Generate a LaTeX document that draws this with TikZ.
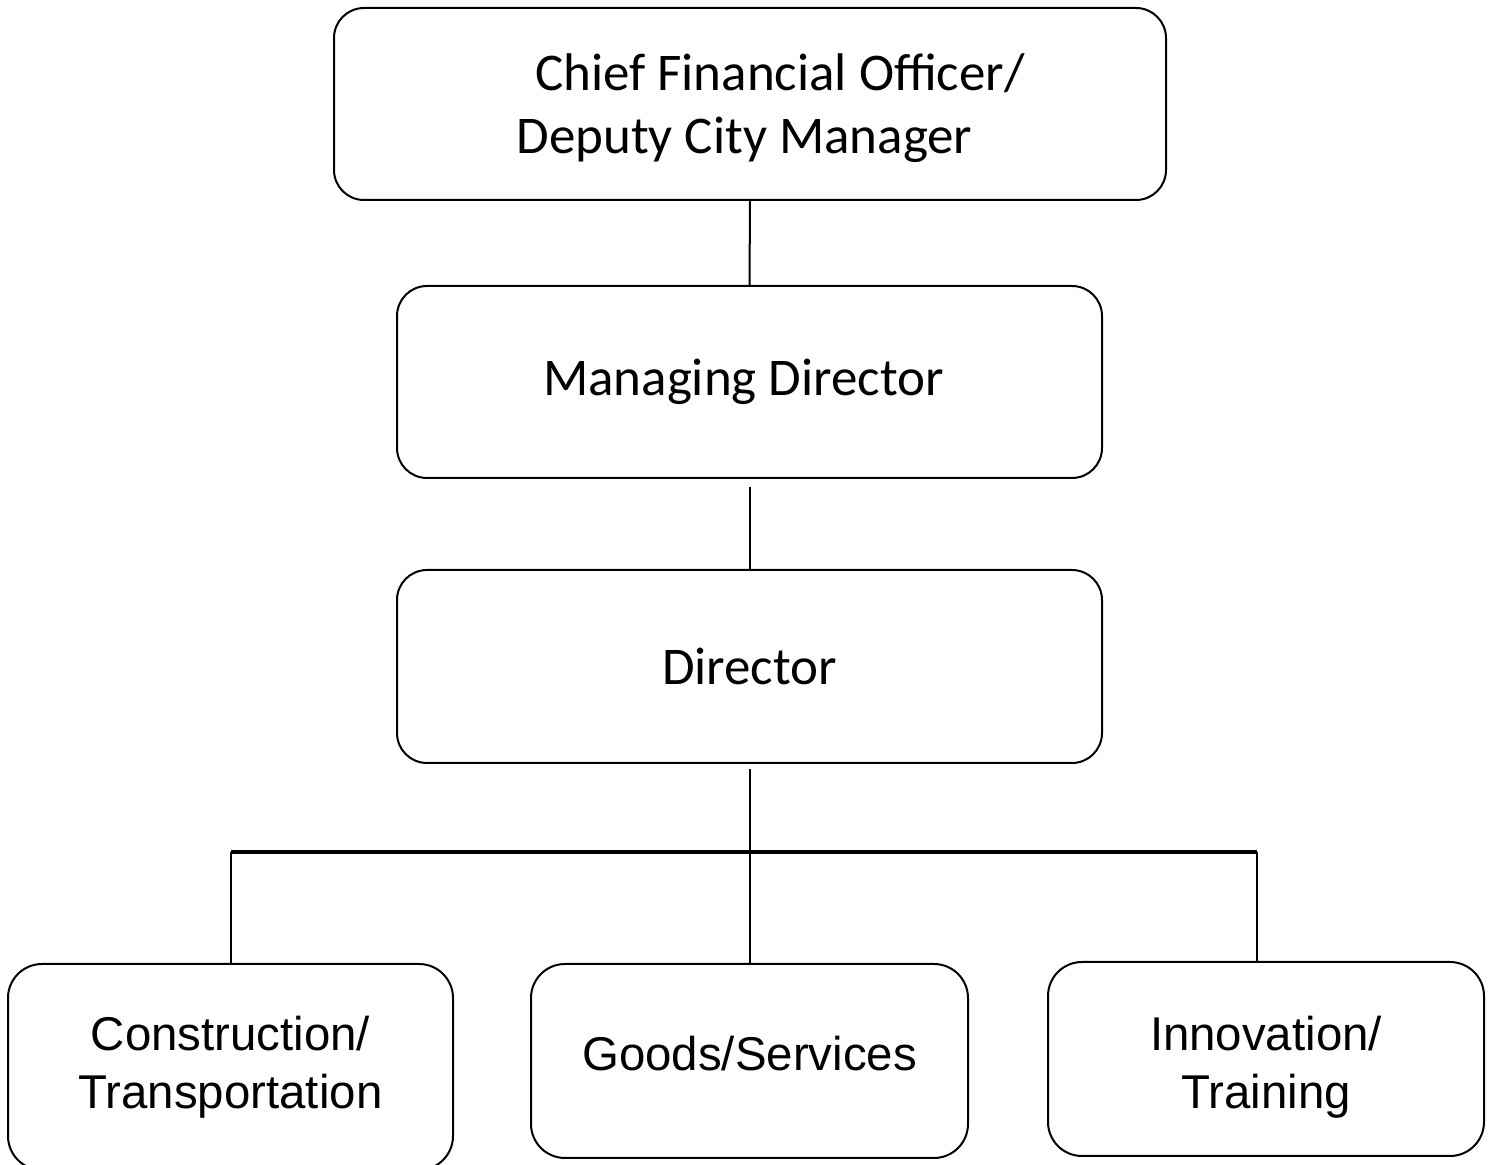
\documentclass[tikz,border=0pt]{standalone}
\usepackage{fontspec}
\setmainfont{Carlito}
\newfontfamily\arialfont{Liberation Sans}

\begin{document}
\begin{tikzpicture}[x=0.5pt, y=-0.5pt,
  topbox/.style={draw, line width=1pt, rounded corners=15pt, align=center, inner sep=0pt, font=\fontsize{26.5}{31.5}\selectfont},
  unitbox/.style={draw, line width=1pt, rounded corners=17pt, align=center, inner sep=0pt, font=\arialfont\fontsize{23.7}{29}\selectfont},
  link/.style={line width=1pt}]
  \useasboundingbox (0,0) rectangle (1496,1165);
  \node[topbox, minimum width=416pt, minimum height=96pt] (cfo) at (750,104) {\raisebox{4pt}{\vphantom{Chf/}}\hspace*{30pt}Chief Financial Officer/\\Deputy City Manager\hspace*{5.5pt}};
  \node[topbox, minimum width=352.5pt, minimum height=96pt] (md) at (749.5,382) {Managing Director\hspace*{6pt}};
  \node[topbox, minimum width=352.5pt, minimum height=96.5pt] (dir) at (749.5,666.5) {Director};
  \node[unitbox, minimum width=222.5pt, minimum height=103pt] (cons) at (230.5,1067) {Construction/\\Transportation};
  \node[unitbox, minimum width=218.5pt, minimum height=97pt] (goods) at (749.5,1061) {\raisebox{-7pt}{\vphantom{Goods/}}Goods/Services};
  \node[unitbox, minimum width=218pt, minimum height=97pt] (innov) at (1266,1059) {\raisebox{8pt}{\vphantom{Innovation/}}Innovation/\\Training};
  \coordinate (busL) at (231,852);
  \coordinate (busR) at (1257,852);
  \draw[link] (cfo.south) -- (md.north);
  \draw[link, shorten <=4pt] (md.south) -- (dir.north);
  \draw[link, shorten <=2.5pt] (dir.south) -- (goods.north);
  \draw[line width=2pt] (busL) -- (busR);
  \draw[link] (busL) -- (busL |- cons.north);
  \draw[link] (busR) -- (busR |- innov.north);
\end{tikzpicture}
\end{document}
